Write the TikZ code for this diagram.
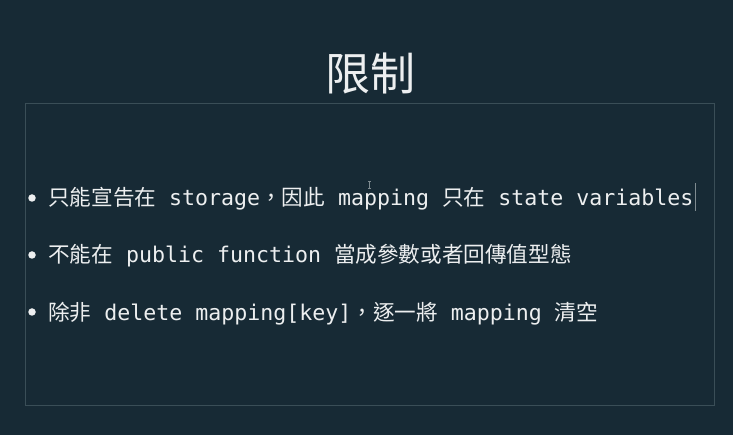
\documentclass[tikz,border=0pt]{standalone}
\usepackage{fontspec}
\setmonofont{DejaVu Sans Mono}
\newfontfamily\cjk{Noto Sans CJK TC}
\usetikzlibrary{positioning}
\definecolor{slidebg}{HTML}{172A35}
\definecolor{framecol}{HTML}{3A4E57}
\definecolor{inkcol}{HTML}{EDEFF0}
\definecolor{caretcol}{HTML}{7F8B90}

\begin{document}
\begin{tikzpicture}[x=1pt,y=-1pt]
    \tikzset{ItemStyle/.style={text=inkcol, inner sep=0pt, anchor=base west,
                 font=\ttfamily\fontsize{21.6}{21.6}\selectfont},
             DotStyle/.style={circle, fill=inkcol, inner sep=0pt, minimum size=7.5pt}}
    \fill[slidebg] (0,0) rectangle (733,435);
    \draw[framecol, line width=1pt] (25.5,104) rectangle (714.5,405.5);
    \node[text=inkcol, inner sep=0pt, anchor=base,
          font=\cjk\fontsize{45}{45}\selectfont] (title) at (370,91) {限制};
    \node[ItemStyle] (item1) at (48,206)
        {{\cjk 只能宣告在} storage{\cjk ，因此} mapping {\cjk 只在} state variables};
    \node[ItemStyle] (item2) at (48,263)
        {{\cjk 不能在} public function {\cjk 當成參數或者回傳值型態}};
    \node[ItemStyle] (item3) at (48,320)
        {{\cjk 除非} delete mapping[key]{\cjk ，逐一將} mapping {\cjk 清空}};
    \node[DotStyle] (dot1) at (32,198) {};
    \node[DotStyle] (dot2) at (32,255) {};
    \node[DotStyle] (dot3) at (32,312) {};
    % text caret and mouse pointer
    \coordinate (caret) at ([xshift=1.5pt]item1.base east);
    \draw[caretcol, line width=0.8pt] (caret) ++(0,5) -- ++(0,-28);
    \coordinate (pointer) at (369.5,185);
    \draw[caretcol, line width=0.6pt] (pointer) ++(0,-3.5) -- ++(0,7)
        (pointer) ++(-1.5,-3.5) -- ++(3,0) (pointer) ++(-1.5,3.5) -- ++(3,0);
\end{tikzpicture}
\end{document}
